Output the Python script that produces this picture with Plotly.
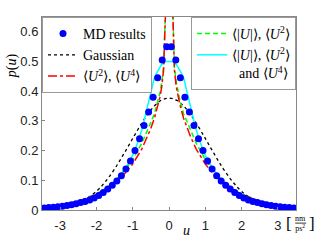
import plotly.graph_objects as go

# MD histogram (bin centres, nm/ps^2) and probability density
md_u = [-3.4375, -3.3125, -3.1875, -3.0625, -2.9375, -2.8125, -2.6875, -2.5625,
        -2.4375, -2.3125, -2.1875, -2.0625, -1.9375, -1.8125, -1.6875, -1.5625,
        -1.4375, -1.3125, -1.1875, -1.0625, -0.9375, -0.8125, -0.6875, -0.5625,
        -0.4375, -0.3125, -0.1875, -0.0625,
        0.0625, 0.1875, 0.3125, 0.4375, 0.5625, 0.6875, 0.8125, 0.9375,
        1.0625, 1.1875, 1.3125, 1.4375, 1.5625, 1.6875, 1.8125, 1.9375,
        2.0625, 2.1875, 2.3125, 2.4375, 2.5625, 2.6875, 2.8125, 2.9375,
        3.0625, 3.1875, 3.3125, 3.4375]
md_p = [0.007, 0.008, 0.009, 0.011, 0.013, 0.015, 0.018, 0.021,
        0.025, 0.029, 0.034, 0.040, 0.049, 0.059, 0.071, 0.083,
        0.098, 0.115, 0.138, 0.165, 0.200, 0.240, 0.285, 0.330,
        0.380, 0.445, 0.505, 0.550,
        0.550, 0.505, 0.445, 0.380, 0.330, 0.285, 0.240, 0.200,
        0.165, 0.138, 0.115, 0.098, 0.083, 0.071, 0.059, 0.049,
        0.040, 0.034, 0.029, 0.025, 0.021, 0.018, 0.015, 0.013,
        0.011, 0.009, 0.008, 0.007]

# model curves, read on a common grid
u_line = [-3.5, -3.0, -2.5, -2.0, -1.75, -1.5, -1.25, -1.0, -0.75, -0.6, -0.5,
          -0.4, -0.3, -0.25, -0.2, -0.15, -0.1, -0.05, 0.0,
          0.05, 0.1, 0.15, 0.2, 0.25, 0.3, 0.4, 0.5, 0.6, 0.75,
          1.0, 1.25, 1.5, 1.75, 2.0, 2.5, 3.0, 3.5]
p_gauss = [0.0016, 0.0068, 0.023, 0.063, 0.096, 0.138, 0.188, 0.241, 0.293, 0.321, 0.337,
           0.351, 0.362, 0.367, 0.370, 0.373, 0.375, 0.376, 0.377,
           0.376, 0.375, 0.373, 0.370, 0.367, 0.362, 0.351, 0.337, 0.321, 0.293,
           0.241, 0.188, 0.138, 0.096, 0.063, 0.023, 0.0068, 0.0016]
p_u2u4 = [0.008, 0.016, 0.030, 0.052, 0.069, 0.090, 0.118, 0.155, 0.205, 0.245, 0.275,
          0.310, 0.355, 0.380, 0.415, 0.470, 0.650, 0.900, 1.300,
          0.900, 0.650, 0.470, 0.415, 0.380, 0.355, 0.310, 0.275, 0.245, 0.205,
          0.155, 0.118, 0.090, 0.069, 0.052, 0.030, 0.016, 0.008]
p_absu2 = [0.007, 0.015, 0.029, 0.054, 0.072, 0.096, 0.128, 0.170, 0.225, 0.265, 0.295,
           0.325, 0.370, 0.395, 0.430, 0.480, 0.660, 0.900, 1.300,
           0.900, 0.660, 0.480, 0.430, 0.395, 0.370, 0.325, 0.295, 0.265, 0.225,
           0.170, 0.128, 0.096, 0.072, 0.054, 0.029, 0.015, 0.007]
p_all = [0.006, 0.012, 0.025, 0.050, 0.070, 0.097, 0.132, 0.185, 0.270, 0.345, 0.395,
         0.445, 0.470, 0.480, 0.490, 0.495, 0.500, 0.500, 0.500,
         0.500, 0.500, 0.495, 0.490, 0.480, 0.470, 0.445, 0.395, 0.345, 0.270,
         0.185, 0.132, 0.097, 0.070, 0.050, 0.025, 0.012, 0.006]

x_ticks = [-3, -2, -1, 0, 1, 2, 3]
y_ticks = [0, 0.1, 0.2, 0.3, 0.4, 0.5, 0.6]
y_ticktext = ["0", "0.1", "0.2", "0.3", "0.4", "0.5", "0.6"]

SERIF = "Liberation Serif"
SANS = "Liberation Sans, Arial"
U = "<i>U</i>"

fig = go.Figure()
fig.add_trace(go.Scatter(
    x=u_line, y=p_gauss, mode="lines", name="Gaussian", legend="legend",
    line=dict(color="black", width=1.3, dash="dot", shape="spline"),
))
fig.add_trace(go.Scatter(
    x=u_line, y=p_all, mode="lines", name=f"⟨|{U}|⟩, ⟨{U}<sup>2</sup>⟩<br>  and ⟨{U}<sup>4</sup>⟩",
    legend="legend2",
    line=dict(color="#00ffff", width=1.5, shape="spline", smoothing=0.6),
))
fig.add_trace(go.Scatter(
    x=u_line, y=p_absu2, mode="lines", name=f"⟨|{U}|⟩, ⟨{U}<sup>2</sup>⟩", legend="legend2",
    line=dict(color="#00ff00", width=1.5, dash="5px,3px"),
))
fig.add_trace(go.Scatter(
    x=u_line, y=p_u2u4, mode="lines", name=f"⟨{U}<sup>2</sup>⟩, ⟨{U}<sup>4</sup>⟩", legend="legend",
    line=dict(color="#ff0000", width=1.5, dash="dashdot"),
))
fig.add_trace(go.Scatter(
    x=md_u, y=md_p, mode="markers", name="MD results", legend="legend",
    marker=dict(color="#0000ff", size=7, line=dict(width=0)),
))

# legend order: left box MD, Gaussian, <U2><U4>; right box green, cyan
fig.data[4].legendrank = 1
fig.data[0].legendrank = 2
fig.data[3].legendrank = 3
fig.data[2].legendrank = 1
fig.data[1].legendrank = 2

legend_style = dict(
    font=dict(family=SERIF, size=14, color="black"),
    bgcolor="white", bordercolor="#999999", borderwidth=1,
    itemwidth=30, tracegroupgap=0, yanchor="top", y=1,
)

fig.update_layout(
    width=327, height=245,
    margin=dict(l=42, r=31, t=17, b=28),
    plot_bgcolor="white", paper_bgcolor="white",
    showlegend=True,
    legend=dict(**legend_style, x=0, xanchor="left", traceorder="normal"),
    legend2=dict(**legend_style, x=1, xanchor="right", traceorder="normal", valign="top"),
    xaxis=dict(
        range=[-3.5, 3.5], tickvals=x_ticks, ticktext=[str(t) for t in x_ticks],
        ticks="inside", ticklen=3, tickcolor="#888888", ticklabelstandoff=3,
        showline=True, linecolor="#888888", linewidth=1, mirror=True,
        showgrid=False, zeroline=False,
        tickfont=dict(family=SANS, size=13, color="#222222"),
    ),
    yaxis=dict(
        range=[0, 0.65], tickvals=y_ticks, ticktext=y_ticktext,
        ticks="inside", ticklen=3, tickcolor="#888888",
        showline=True, linecolor="#888888", linewidth=1, mirror=True,
        showgrid=False, zeroline=False,
        tickfont=dict(family=SANS, size=13, color="#222222"),
    ),
)

ann = dict(xref="paper", yref="paper", showarrow=False, xanchor="center", yanchor="middle",
           font=dict(family=SERIF, size=14, color="black"))
big = dict(family=SERIF, size=17, color="black")
fig.add_annotation(**ann, x=-0.118, y=0.745, text="<i>p</i>(<i>u</i>)", textangle=-90)
fig.add_annotation(**ann, x=0.567, y=-0.105, text="<i>u</i>")
fig.add_annotation(**{**ann, "font": big}, x=0.972, y=-0.068, text="[")
fig.add_annotation(**{**ann, "font": big}, x=1.063, y=-0.068, text="]")
fig.add_annotation(**{**ann, "font": dict(family=SERIF, size=8, color="black")},
                   x=1.018, y=-0.07, text="nm<br>ps<sup>2</sup>")
fig.add_shape(type="line", xref="paper", yref="paper", x0=0.997, x1=1.04,
              y0=-0.068, y1=-0.068, line=dict(color="black", width=0.8))

# drop the page's default body margin so the figure sits at (0, 0)
fig.write_html("out.html", config={"displayModeBar": False},
               post_script="document.body.style.margin='0';")
